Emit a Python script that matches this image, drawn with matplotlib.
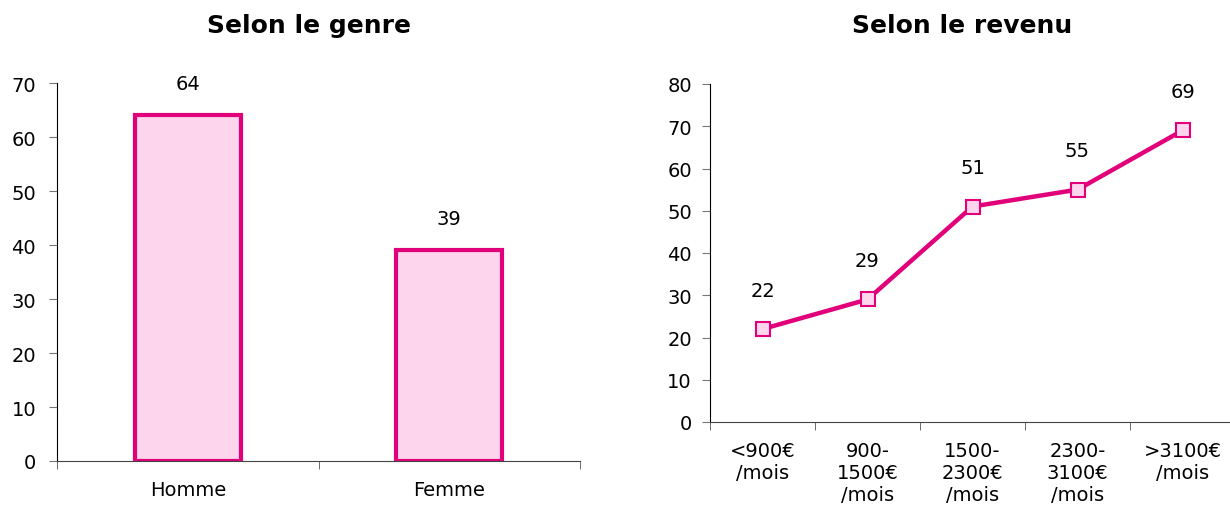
import matplotlib.pyplot as plt

# data
genres = ["Homme", "Femme"]
genre_vals = [64, 39]

revenus = ["<900€\n/mois", "900-\n1500€\n/mois", "1500-\n2300€\n/mois",
           "2300-\n3100€\n/mois", ">3100€\n/mois"]
revenu_vals = [22, 29, 51, 55, 69]

pink = "#E2007A"
light = "#FDD5EC"

plt.rcParams["font.family"] = "DejaVu Sans"
plt.rcParams["font.size"] = 14

fig = plt.figure(figsize=(12.3, 5.1), dpi=100)

# left chart: bars by gender
ax1 = fig.add_axes([57 / 1230, 48 / 510, 523 / 1230, 378 / 510])
x1 = range(len(genres))
ax1.bar(x1, genre_vals, width=0.405, color=light, edgecolor=pink, linewidth=3)
for i, v in zip(x1, genre_vals):
    ax1.annotate(str(v), (i, v), xytext=(0, 16), textcoords="offset points",
                 ha="center", va="bottom", fontsize=14)
ax1.set_xlim(-0.5, 1.5)
ax1.set_ylim(0, 70)
ax1.set_yticks(range(0, 71, 10))
ax1.set_xticks(x1)
ax1.set_xticklabels(genres)
ax1.set_xticks([-0.5, 0.5, 1.5], minor=True)
ax1.tick_params(axis="x", which="major", length=0, pad=14)
ax1.tick_params(axis="x", which="minor", length=6, color="#555555")
ax1.tick_params(axis="y", length=6, color="#777777", pad=9)
ax1.spines["top"].set_visible(False)
ax1.spines["right"].set_visible(False)
ax1.spines["bottom"].set_color("#444444")

# right chart: line by income
ax2 = fig.add_axes([710 / 1230, 87 / 510, 525 / 1230, 338 / 510])
x2 = range(len(revenus))
ax2.plot(x2, revenu_vals, color=pink, linewidth=3.2, marker="s", markersize=9.5,
         markerfacecolor=light, markeredgecolor=pink, markeredgewidth=1.5)
for i, v in zip(x2, revenu_vals):
    ax2.annotate(str(v), (i, v), xytext=(0, 21), textcoords="offset points",
                 ha="center", va="bottom", fontsize=14)
ax2.set_xlim(-0.5, 4.5)
ax2.set_ylim(0, 80)
ax2.set_yticks(range(0, 81, 10))
ax2.set_xticks(x2)
ax2.set_xticklabels(revenus, linespacing=1.2)
ax2.set_xticks([i - 0.5 for i in range(len(revenus) + 1)], minor=True)
ax2.tick_params(axis="x", which="major", length=0, pad=14)
ax2.tick_params(axis="x", which="minor", length=6, color="#555555")
ax2.tick_params(axis="y", length=6, color="#777777", pad=7)
ax2.spines["top"].set_visible(False)
ax2.spines["right"].set_visible(False)
ax2.spines["bottom"].set_color("#444444")

fig.text(309 / 1230, 1 - 26 / 510, "Selon le genre", ha="center", va="center",
         fontsize=18, fontweight="bold")
fig.text(962 / 1230, 1 - 26 / 510, "Selon le revenu", ha="center", va="center",
         fontsize=18, fontweight="bold")

fig.savefig("out.png", dpi=100)
